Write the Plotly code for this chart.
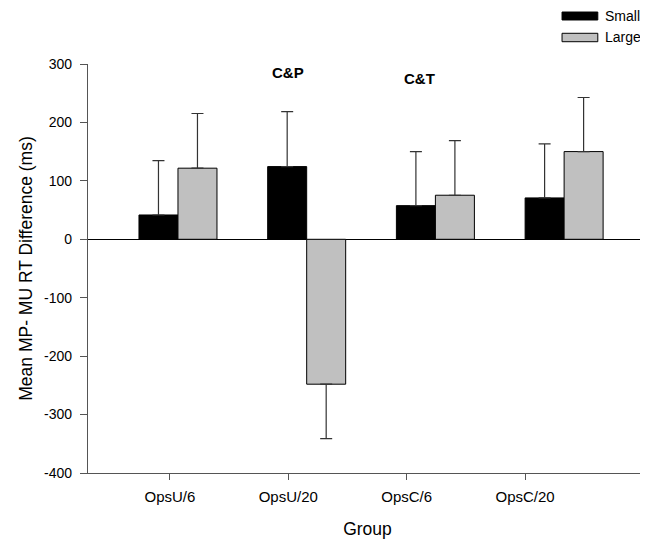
import plotly.graph_objects as go

groups = ["OpsU/6", "OpsU/20", "OpsC/6", "OpsC/20"]
small_vals = [41.6, 124.4, 57.6, 70.8]
large_vals = [121.7, -248.0, 75.4, 150.1]
small_err = [93.0, 94.0, 92.5, 92.5]
large_err = [93.6, 93.0, 93.6, 92.6]
series_names = ["Small", "Large"]
y_ticks = [-400, -300, -200, -100, 0, 100, 200, 300]
y_ticktext = ["-400", "-300", "-200", "-100", "0", "100", "200", "300"]

FONT = "Liberation Sans, Arial, sans-serif"
pos = list(range(len(groups)))


def err_dict(vals, errs):
    plus = [e if v >= 0 else 0 for v, e in zip(vals, errs)]
    minus = [e if v < 0 else 0 for v, e in zip(vals, errs)]
    return dict(type="data", symmetric=False, array=plus, arrayminus=minus,
                color="#333333", thickness=1.2, width=6)


fig = go.Figure()
fig.add_trace(go.Bar(x=pos, y=small_vals, name=series_names[0],
                     marker=dict(color="#000000", line=dict(color="#000000", width=1)),
                     error_y=err_dict(small_vals, small_err)))
fig.add_trace(go.Bar(x=pos, y=large_vals, name=series_names[1],
                     marker=dict(color="#c0c0c0", line=dict(color="#000000", width=1)),
                     error_y=err_dict(large_vals, large_err)))

# legend drawn as boxes + text (SigmaPlot-style wide swatches)
legend_colors = ["#000000", "#c0c0c0"]
legend_y = [(1.1271, 1.1076), (1.0751, 1.0545)]
shapes = []
annotations = []
for name, col, (y1, y0) in zip(series_names, legend_colors, legend_y):
    shapes.append(dict(type="rect", xref="paper", yref="paper", x0=0.848, x1=0.912,
                       y0=y0, y1=y1, fillcolor=col, line=dict(color="#000000", width=1)))
    annotations.append(dict(xref="paper", yref="paper", x=0.921, y=(y0 + y1) / 2,
                            text=name, showarrow=False, xanchor="left", yanchor="middle",
                            font=dict(family=FONT, size=14, color="#000000")))

annotations.append(dict(xref="x2", yref="y", x=1, y=285, text="<b>C&P</b>", showarrow=False,
                        font=dict(family=FONT, size=15, color="#000000")))
annotations.append(dict(xref="x2", yref="y", x=2.11, y=276, text="<b>C&T</b>", showarrow=False,
                        font=dict(family=FONT, size=15, color="#000000")))

# page body has an 8px default margin; figure is sized so the plot lands at the right spot
fig.update_layout(
    width=640, height=534, autosize=False,
    margin=dict(l=80, r=1, t=56, b=69),
    plot_bgcolor="white", paper_bgcolor="white",
    barmode="group", bargap=0.394, bargroupgap=0,
    showlegend=False,
    font=dict(family=FONT, color="#000000"),
    xaxis=dict(range=[-0.699, 3.644], showticklabels=False, ticks="", showgrid=False,
               zeroline=False, showline=True, linecolor="#555555", linewidth=1.2),
    xaxis2=dict(overlaying="x", anchor="y", side="bottom", range=[-0.692, 4.03],
                tickmode="array", tickvals=pos, ticktext=groups,
                ticks="outside", ticklen=6, tickcolor="#555555", tickwidth=1.2,
                ticklabelstandoff=4,
                showgrid=False, zeroline=False, showline=False,
                tickfont=dict(family=FONT, size=15, color="#000000"),
                title=dict(text="Group", font=dict(family=FONT, size=17.5, color="#000000"),
                           standoff=18)),
    yaxis=dict(range=[-400, 300], tickmode="array", tickvals=y_ticks, ticktext=y_ticktext,
               ticks="outside", ticklen=7, tickcolor="#555555", tickwidth=1.2,
               ticklabelstandoff=5,
               showgrid=False, showline=True, linecolor="#555555", linewidth=1.2,
               zeroline=True, zerolinecolor="#000000", zerolinewidth=1.2,
               tickfont=dict(family=FONT, size=14, color="#000000"),
               title=dict(text="Mean MP- MU RT Difference (ms)",
                          font=dict(family=FONT, size=17.5, color="#000000"), standoff=6)),
    shapes=shapes, annotations=annotations,
)

fig.write_html("out.html")
